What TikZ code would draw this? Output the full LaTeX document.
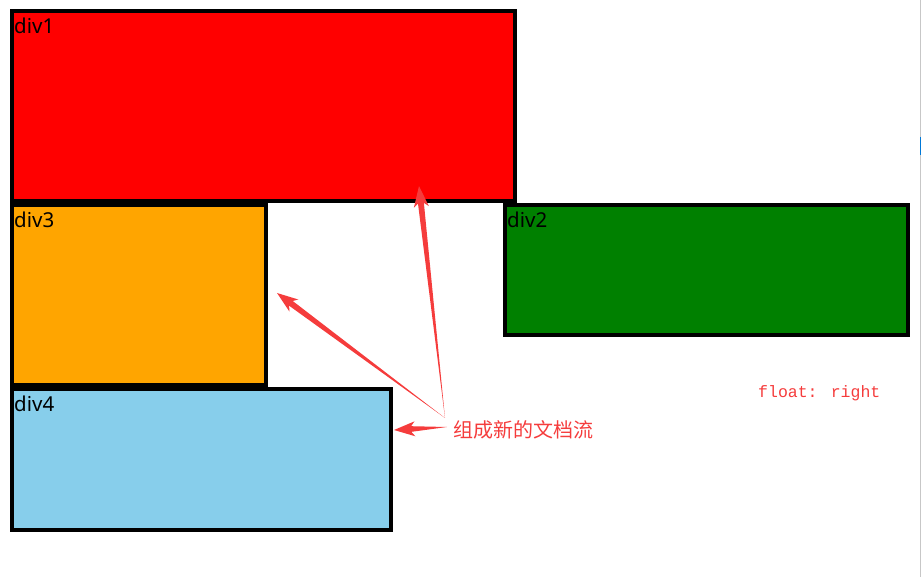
\documentclass[tikz,border=0pt]{standalone}
\usepackage{fontspec}
\setmainfont{Noto Sans}
\newfontfamily\cjk{Noto Sans CJK SC}
\newfontfamily\mono{Liberation Mono}
\usetikzlibrary{calc}
\definecolor{annot}{RGB}{245,60,60}
\definecolor{skyblue}{RGB}{135,206,235}
\definecolor{divgreen}{RGB}{0,128,0}
\definecolor{divorange}{RGB}{255,165,0}
\definecolor{barblue}{RGB}{0,120,215}
\tikzset{
	divbox/.style={draw, line width=4pt, inner sep=0pt, outer sep=0pt, anchor=north west},
	divlbl/.style={anchor=north west, inner xsep=2pt, inner ysep=6.5pt, font=\fontsize{20.5}{21}\selectfont},
	note/.style={text=annot, inner sep=0pt, anchor=west}
}

\begin{document}
\begin{tikzpicture}[x=1pt,y=-1pt]
		\useasboundingbox (0,0) rectangle (922,577);
		\node[divbox, fill=red, minimum width=503pt, minimum height=190pt, label={[divlbl]north west:div1}] (div1) at (12,11) {};
		\node[divbox, fill=divgreen, minimum width=403pt, minimum height=130pt, label={[divlbl]north west:div2}] (div2) at (505,205) {};
		\node[divbox, fill=divorange, minimum width=254pt, minimum height=180pt, label={[divlbl]north west:div3}] (div3) at (12,205) {};
		\node[divbox, fill=skyblue, minimum width=379pt, minimum height=141pt, label={[divlbl]north west:div4}] (div4) at (12,389) {};
		\node[note, font=\mono\fontsize{16.5}{17}\selectfont] (flt) at (758,393) {float: right};
		\node[note, font=\cjk\fontsize{20}{20}\selectfont] (flow) at (453,430) {组成新的文档流};
		\coordinate (srcA) at (445,418);
		\coordinate (srcB) at (447,427);
		\coordinate (tipA) at (419,186);
		\coordinate (tipB) at (277,293);
		\coordinate (tipC) at (394,430);
		\foreach \s/\t in {srcA/tipA,srcA/tipB,srcB/tipC}{
			\coordinate (w) at ($(\t)!21pt!(\s)$);
			\coordinate (n) at ($(\t)!15pt!(\s)$);
			\fill[annot] (\s) -- ($(n)!3pt!90:(\s)$) -- ($(n)!3pt!-90:(\s)$) -- cycle;
			\fill[annot] (\t) -- ($(w)!7.5pt!90:(\s)$) -- (n) -- ($(w)!7.5pt!-90:(\s)$) -- cycle;
		}
		\draw[black!22, line width=1pt] (920.5,0) -- (920.5,577);
		\draw[barblue, line width=1pt] (920.5,137) -- (920.5,155);
	\end{tikzpicture}
\end{document}
